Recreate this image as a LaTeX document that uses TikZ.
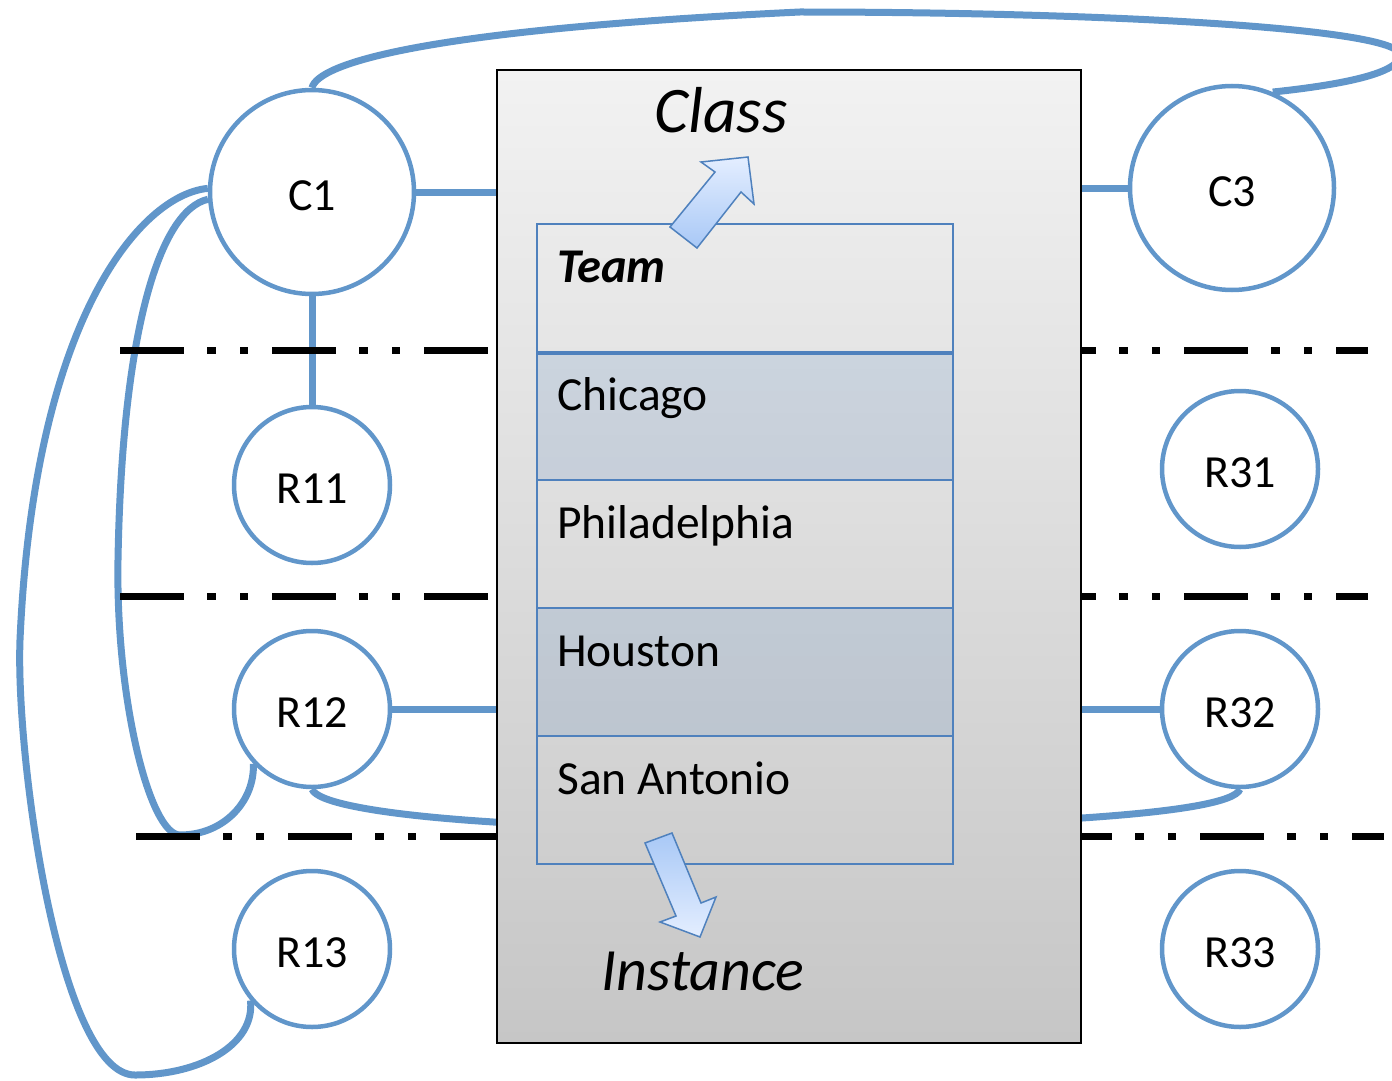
\documentclass[tikz,border=0pt]{standalone}
\usepackage{fontspec}
\setmainfont{Carlito}
\pgfdeclarelayer{conns}
\pgfdeclarelayer{dashes}
\pgfsetlayers{conns,dashes,main}
\definecolor{cblue}{RGB}{97,150,202}
\definecolor{tblue}{RGB}{79,129,189}
\definecolor{boxtop}{RGB}{242,242,242}
\definecolor{boxbot}{RGB}{198,198,198}
\definecolor{arrdark}{RGB}{168,200,246}
\definecolor{arrlight}{RGB}{228,238,255}
\newcommand{\lowlbl}[1]{\raisebox{-4pt}[\height][\depth]{#1}}
\begin{document}
\begin{tikzpicture}[x=1pt,y=-1pt,
  conn/.style={draw=cblue,line width=7pt},
  circ/.style={circle,draw=cblue,line width=4.5pt,fill=white,inner sep=0pt,font=\fontsize{46}{55}\selectfont},
  bigc/.style={circ,minimum size=204pt},
  smallc/.style={circ,minimum size=156pt},
  dashln/.style={line width=7pt,dash pattern=on 64pt off 23pt on 9pt off 24pt on 8pt off 24pt},
  cell/.style={draw=tblue,line width=2pt,minimum width=416pt,minimum height=128pt,anchor=north west,inner sep=0pt},
  shadedcell/.style={cell,fill=tblue,fill opacity=0.17},
  celltxt/.style={anchor=base west,inner sep=0pt,font=\fontsize{47.5}{57}\selectfont},
  bigtxt/.style={anchor=base,inner sep=0pt,font=\fontsize{60}{72}\selectfont\itshape},
  blockarrow/.style={draw=tblue,line width=1.5pt,line join=miter}
]
\useasboundingbox (0,0) rectangle (1392,1081);

% main box
\node[draw=black,line width=2pt,top color=boxtop,bottom color=boxbot,minimum width=584pt,minimum height=973pt,anchor=north west,inner sep=0pt] (box) at (496,69) {};

% table
\node[cell] (team) at (536,223) {};
\node[shadedcell] (chicago) at (536,351) {};
\node[cell] (phil) at (536,479) {};
\node[shadedcell] (houston) at (536,607) {};
\node[cell] (santon) at (536,735) {};
\draw[tblue,line width=4pt] (team.south west) -- (team.south east);

\node[celltxt,font=\fontsize{48.5}{58}\selectfont] (tteam) at (557,282) {\textbf{\textit{Team}}};
\node[celltxt] (tchicago) at (557,410) {Chicago};
\node[celltxt] (tphil) at (557,538) {Philadelphia};
\node[celltxt] (thouston) at (557,666) {Houston};
\node[celltxt] (tsanton) at (557,794) {San Antonio};

\node[bigtxt,font=\fontsize{65}{78}\selectfont\itshape] (lclass) at (721,132) {Class};
\node[bigtxt] (linst) at (703,990) {Instance};

% block arrows
\draw[blockarrow,top color=arrlight,bottom color=arrdark]
  (670,227) -- (715,172) -- (701,162) -- (748,157) -- (754,204) -- (741,192) -- (697,248) -- cycle;
\draw[blockarrow,top color=arrdark,bottom color=arrlight]
  (645,843) -- (676,916) -- (660,922) -- (700,937) -- (716,897) -- (701,903) -- (672,833) -- cycle;

% circles
\node[bigc] (C1) at (312,192) {\lowlbl{C1}};
\node[bigc] (C3) at (1232,188) {\lowlbl{C3}};
\node[smallc] (R11) at (312,485) {\lowlbl{R11}};
\node[smallc] (R12) at (312,709) {\lowlbl{R12}};
\node[smallc] (R13) at (312,949) {\lowlbl{R13}};
\node[smallc] (R31) at (1240,469) {\lowlbl{R31}};
\node[smallc] (R32) at (1240,709) {\lowlbl{R32}};
\node[smallc] (R33) at (1240,949) {\lowlbl{R33}};

% dashed separators
\begin{pgfonlayer}{dashes}
\coordinate (d1s) at (120,350); \coordinate (d1e) at (1368,350);
\coordinate (d2s) at (120,596); \coordinate (d2e) at (1368,596);
\coordinate (d3s) at (136,836); \coordinate (d3e) at (1384,836);
\draw[dashln] (d1s) -- (d1e);
\draw[dashln] (d2s) -- (d2e);
\draw[dashln] (d3s) -- (d3e);
\end{pgfonlayer}

% connectors
\begin{pgfonlayer}{conns}
\draw[conn] (C1.east) -- (C1.east -| box.west);
\draw[conn] (C3.west) -- (C3.west -| box.east);
\draw[conn] (C1.south) -- (R11.north);
\draw[conn] (R12.east) -- (R12.east -| box.west);
\draw[conn] (R32.west) -- (R32.west -| box.east);
\coordinate (mb) at (776,828);
\draw[conn] (R12.south) .. controls +(10,25) and +(-250,3) .. (mb) .. controls +(250,-3) and +(-10,25) .. (R32.south);
\coordinate (tp) at (800,12);
\coordinate (rp) at (1400,55);
\draw[conn] (C1.north) .. controls +(6,-24) and (420,30) .. (tp) .. controls (1100,12) and (1400,28) .. (rp) .. controls (1400,75) and (1330,86) .. (C3.67);
\coordinate (ol1) at (20,640);
\coordinate (ol2) at (135,1075);
\draw[conn] (C1.178) .. controls (140,195) and (34,320) .. (ol1) .. controls (15.5,760) and (60,1075) .. (ol2) .. controls (200,1075) and (255,1045) .. (R13.220);
\coordinate (il1) at (118,560);
\coordinate (il2) at (180,835);
\draw[conn] (C1.184) .. controls (160,210) and (122,330) .. (il1) .. controls (115.6,700) and (150,835) .. (il2) .. controls (225,835) and (255,800) .. (R12.223);
\end{pgfonlayer}
\end{tikzpicture}
\end{document}
